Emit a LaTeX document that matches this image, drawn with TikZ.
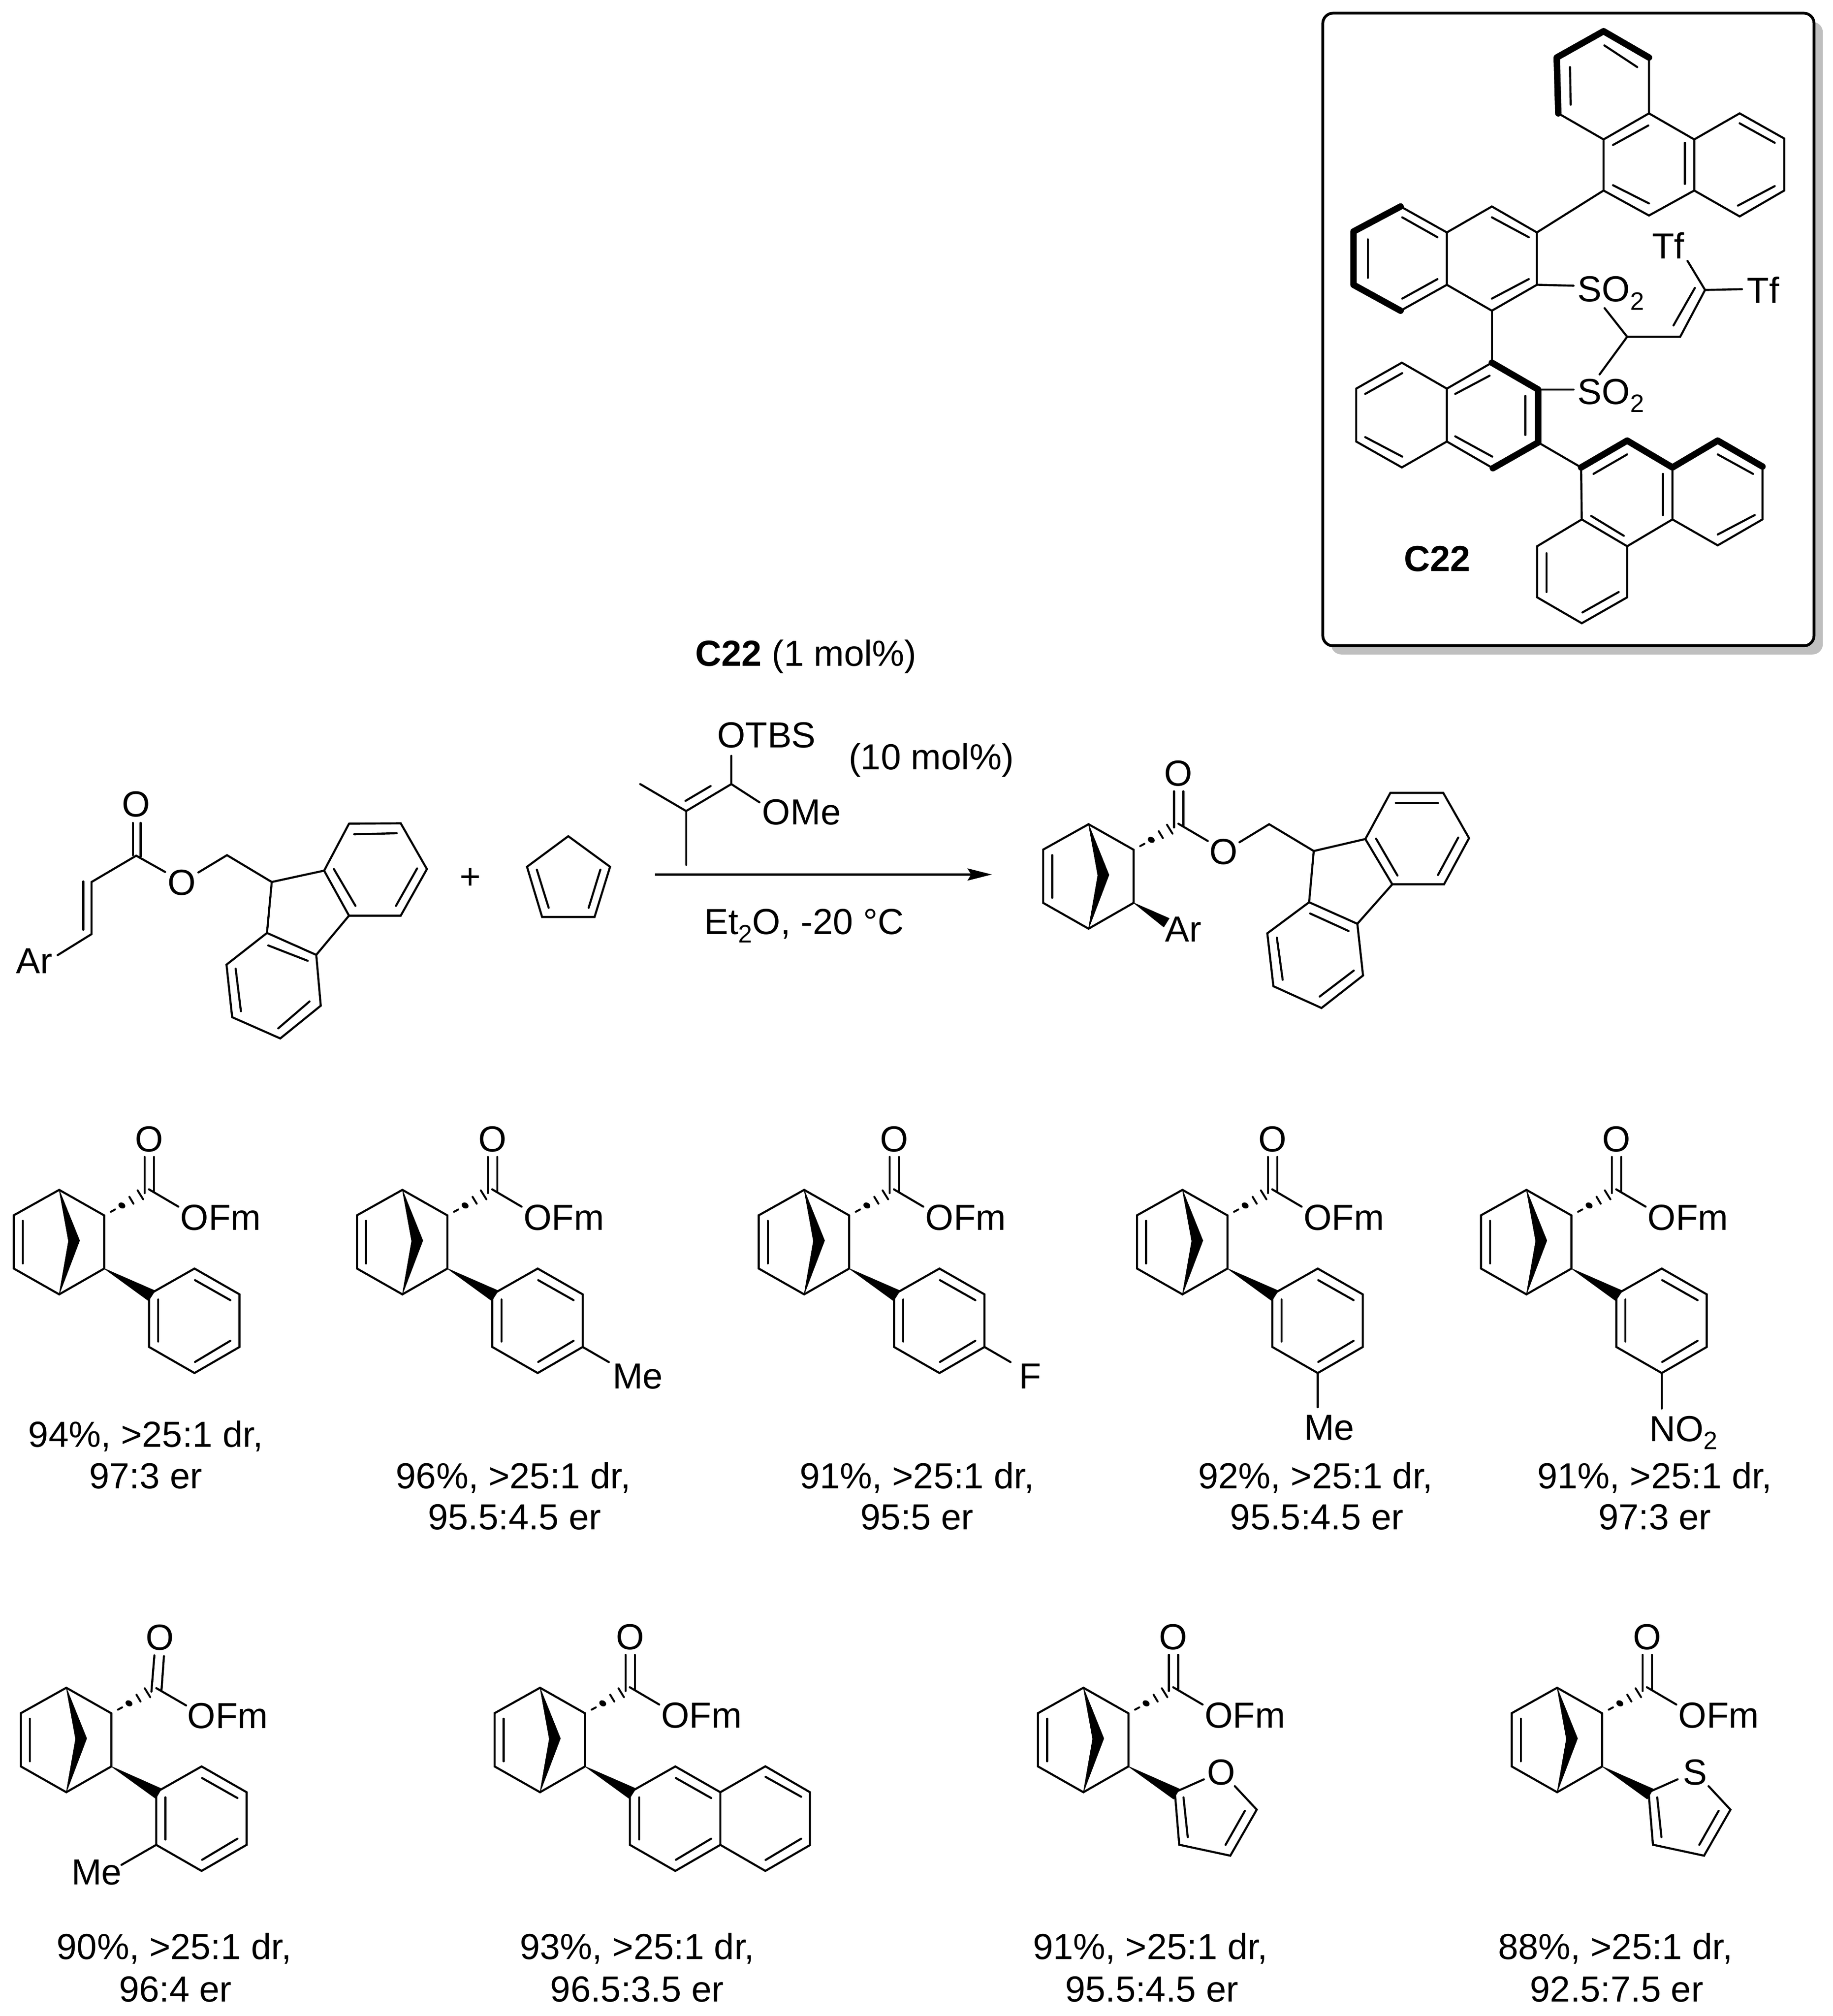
\documentclass[tikz,border=0pt]{standalone}
\usepackage{fontspec}
\setmainfont{Liberation Sans}
\newcommand{\sbs}[1]{\raisebox{-0.22em}{\fontsize{19.5}{19.5}\selectfont #1}}
\tikzset{
  bond/.style={line width=1.6pt,line cap=round,line join=miter,black},
  bold/.style={line width=5pt,line cap=round,line join=round,black},
  hashb/.style={line width=1.5pt,line cap=round,black},
  wedge/.style={fill=black,draw=black,line width=.4pt,line join=round},
  lab/.style={inner sep=0pt,outer sep=0pt,font=\fontsize{28.1}{32}\selectfont},
  lw/.style={lab,anchor=base west},
  lc/.style={lab,anchor=base,align=center},
  lm/.style={lab,anchor=center}
}
% norbornene ring with hashed bond
\newcommand{\nbring}[2]{%
\begin{scope}[shift={(#1,#2)}]
 \draw[bond] (0,0)--(-35.2,19.7)--(-35.2,61)--(0,81)--(34.9,61)--(34.9,19.8)--cycle;
 \draw[bond] (-28.2,24)--(-28.2,57);
 \fill[wedge] (0,0)--(15.8,39.3)--(0,81)--(7.2,39.7)--cycle;
 \draw[hashb] (40,17) -- (43.3,15.2);
 \fill[rotate around={-30:(48.6,12.1)}] (48.6,12.1) ellipse [x radius=2.8pt,y radius=2.2pt];
 \draw[hashb] (54.4,5.4) -- (57.6,10.7);
 \draw[hashb] (60.8,.4) -- (65.1,7.3);
\end{scope}}
% core: ring + vertical C=O
\newcommand{\nbcore}[3]{%
\nbring{#1}{#2}
\begin{scope}[shift={(#1,#2)}]
 \draw[bond] (66.3,-25.5)--(66.3,2.5);
 \draw[bond] (73.5,-25.5)--(73.5,1.5);
 \draw[bond] (69.6,-.4)--(92.4,13);
 \node[lm] (#3co) at (69.7,-39.2) {O};
\end{scope}}
% product core + ester + wedge
\newcommand{\prd}[3]{%
 \nbcore{#1}{#2}{#3}
 \begin{scope}[shift={(#1,#2)}]
  \node[lw] (#3ofm) at (94,31.3) {OFm};
  \fill[wedge] (34.9,61)--(74.3,78.2)--(69.3,86)--cycle;
 \end{scope}}
% benzene ring attached
\newcommand{\phr}[2]{%
 \begin{scope}[shift={(#1,#2)}]
  \draw[bond] (69.7,81)--(104.9,61)--(139.8,81)--(139.8,121.8)--(104.9,142)--(69.7,121.8)--cycle;
  \draw[bond] (76.8,85)--(76.8,117.6);
  \draw[bond] (105.3,70)--(132.7,85.5);
  \draw[bond] (105.3,133.4)--(132.7,117);
 \end{scope}}
% five-membered heteroaryl carbon skeleton
\newcommand{\hetar}[2]{%
 \begin{scope}[shift={(#1,#2)}]
  \fill[wedge] (34.9,61)--(74.5,78.5)--(69.9,86.3)--cycle;
  \draw[bond] (93.4,71)--(70.9,81)--(74.3,121.7)--(113.9,130.2)--(134.4,94.5)--(117.4,76.3);
  \draw[bond] (77.6,85)--(80.9,115.8);
  \draw[bond] (125.2,95.4)--(110.2,121.8);
  \node[lw] at (94,31.3) {OFm};
 \end{scope}}
\begin{document}
\begin{tikzpicture}[x=1pt,y=-1pt]
\useasboundingbox (0,0) rectangle (1421,1563);
\fill[white] (0,0) rectangle (1421,1563);

% ---------- catalyst box
\fill[black!25,rounded corners=8pt] (1032,17) rectangle (1413.3,507.4);
\draw[line width=2.17pt,fill=white,rounded corners=8pt] (1025.6,10.2) rectangle (1406.5,500.7);
% top phenanthrene
\draw[bond] (1278.5,44.6)--(1278.5,87.9)--(1243.3,108.1)--(1208.2,87.9);
\draw[bold] (1278.5,44.6)--(1243.3,24.2)--(1207,44.6)--(1208.2,87.9);
\draw[bond] (1243.9,35.2)--(1269.4,52);
\draw[bond] (1217.3,52)--(1217.8,81.2);
\draw[bond] (1243.3,108.1)--(1243.3,147.7)--(1278.5,167.1)--(1313.6,147.7)--(1313.6,108.1)--(1278.5,87.9);
\draw[bond] (1278,97.3)--(1250.6,112.4);
\draw[bond] (1250.6,143.6)--(1278.5,157.7);
\draw[bond] (1306.3,110.7)--(1306.3,142.6);
\draw[bond] (1313.6,108.1)--(1348.8,87.9)--(1383.4,107.4)--(1383.4,147.7)--(1348.8,167.8)--(1313.6,147.7);
\draw[bond] (1348.8,95.6)--(1376,110.7);
\draw[bond] (1376,144.3)--(1347.5,159.4);
\draw[bond] (1243.3,147.7)--(1191.6,180.2);
% upper naphthalene
\draw[bond] (1191.6,180.2)--(1156.7,160.1)--(1121.8,180.2)--(1121.8,220.8)--(1156.7,240.9)--(1191.6,220.8)--cycle;
\draw[bond] (1185.3,183.9)--(1156.7,168.5);
\draw[bond] (1156.7,231.5)--(1185.3,216.4);
\draw[bond] (1121.8,180.2)--(1085.9,160.1);
\draw[bond] (1121.8,220.8)--(1085.9,240.9);
\draw[bold] (1085.9,160.1)--(1049.4,179.5)--(1049.4,220.8)--(1085.9,240.9);
\draw[bond] (1114.5,183.9)--(1087.2,168.5);
\draw[bond] (1087.2,231.5)--(1114.5,216.4);
\draw[bond] (1060.6,185.6)--(1060.6,215.4);
\draw[bond] (1191.6,220.8)--(1220,221.5);
\draw[bond] (1156.7,240.9)--(1156.7,281.2);
\node[lw] (so2a) at (1223.3,234) {SO\sbs{2}};
\node[lw] (so2b) at (1223.3,313.5) {SO\sbs{2}};
% lower naphthalene
\draw[bold] (1156.7,281.2)--(1192.6,302)--(1192.6,343)--(1157.5,363);
\draw[bond] (1156.7,281.2)--(1121.8,301.3)--(1121.8,342.3)--(1157.5,363);
\draw[bond] (1121.8,301.3)--(1086.9,281.2)--(1051.5,301.3)--(1051.5,342.3)--(1086.9,362.4)--(1121.8,342.3);
\draw[bond] (1154.9,291.3)--(1128.3,305.4);
\draw[bond] (1182.7,307)--(1182.7,337.2);
\draw[bond] (1157,354)--(1128.3,338.3);
\draw[bond] (1087.2,289.3)--(1058.5,305.4);
\draw[bond] (1058.5,338.9)--(1087.2,354);
\draw[bond] (1192.6,302)--(1220,302);
\draw[bond] (1192.6,343)--(1225.9,362.4);
% lower phenanthrene
\draw[bold] (1225.9,362.4)--(1261.6,341.6)--(1296.7,362.4)--(1331.8,341.6)--(1366.5,361.7);
\draw[bond] (1225.9,362.4)--(1226.4,402.7)--(1261.6,423.5)--(1296.7,402.7)--(1296.7,362.4);
\draw[bond] (1366.5,361.7)--(1366.5,402.7)--(1331.8,422.8)--(1296.7,402.7);
\draw[bond] (1261.6,423.5)--(1261.6,463.1)--(1226.4,483.2)--(1191.8,463.1)--(1191.8,423.5)--(1226.4,402.7);
\draw[bond] (1235.5,367.4)--(1261.6,352.3);
\draw[bond] (1289.4,367.4)--(1289.4,399.3);
\draw[bond] (1331.8,352.3)--(1359.2,367.4);
\draw[bond] (1360.5,399.3)--(1331.8,414.4);
\draw[bond] (1233.7,400)--(1259,415.4);
\draw[bond] (1199.1,428.9)--(1199.1,459);
\draw[bond] (1255,459)--(1226.9,474.8);
% central chain
\draw[bond] (1244.1,238.9)--(1261.6,261.1)--(1240.2,290.3);
\draw[bond] (1261.6,261.1)--(1302.7,261.1)--(1322,224.8);
\draw[bond] (1297.5,252.3)--(1314.1,223.2);
\draw[bond] (1308.4,202.3)--(1322,224.8)--(1350.6,224.2);
\node[lw] (tfa) at (1281,200.7) {Tf};
\node[lw] (tfb) at (1354.5,234.9) {Tf};
\node[lw,font=\fontsize{28.1}{32}\selectfont\bfseries] (c22) at (1088.5,443) {C22};

% ---------- reactant
\node[lm] (ro) at (105.6,623.6) {O};
\draw[bond] (103,638)--(103,663);
\draw[bond] (109,638)--(109,664);
\draw[bond] (128,676)--(105.6,663.4)--(71,683.8)--(71,724.2)--(44.7,740.5);
\draw[bond] (64.5,683.4)--(64.5,720.8);
\node[lw] (rar) at (12.5,754.7) {Ar};
\node[lm] (roe) at (141,684.4) {O};
\draw[bond] (153.8,676.4)--(176,663)--(210.7,683.8)--(251.3,675)--(270.6,638.6)--(310.7,638.3)--(331,673.8)--(310.7,709.9)--(270.6,709.9)--(251.3,675);
\draw[bond] (270.6,709.9)--(245.2,740.3)--(207,723.3)--(210.7,683.8);
\draw[bond] (207,723.3)--(175.6,747.9)--(180,788.6)--(217.3,805.1)--(248.7,779.7)--(245.2,740.3);
\draw[bond] (274.6,646.8)--(307.6,646);
\draw[bond] (323.4,673.3)--(307,702.3);
\draw[bond] (258.9,673.8)--(275.6,702.3);
\draw[bond] (208,733)--(238.6,744.9);
\draw[bond] (182.7,751)--(186.8,784);
\draw[bond] (215.7,797.3)--(240,776.4);
\node[lm] (plus) at (364.5,681) {+};
% cyclopentadiene
\draw[bond] (440.6,648.3)--(473,672)--(461,710.9)--(420.3,710.9)--(408.6,672)--cycle;
\draw[bond] (416.2,674.2)--(425.4,703.8);
\draw[bond] (465.5,674.2)--(456.4,703.8);

% ---------- reaction conditions
\coordinate (arrS) at (508,678);
\coordinate (arrE) at (769,678);
\draw[bond,line cap=butt] (arrS)--(758,678);
\fill (arrE)--(750,673.2)--(753,678)--(750,682.8)--cycle;
\node[lw] (cat) at (539,516.5) {\textbf{C22} (1 mol\%)};
\node[lw] (otbs) at (556,579.5) {OTBS};
\node[lw] (tenp) at (658,596.5) {(10 mol\%)};
\node[lw] (ome) at (591,639.5) {OMe};
\node[lw] (etoh) at (546,724.5) {Et\sbs{2}O, -20 °C};
\draw[bond] (567,586)--(567,607.9)--(532,628.8)--(496.4,607.9);
\draw[bond] (551,609.4)--(531.5,620.9);
\draw[bond] (532,628.8)--(532,670.5);
\draw[bond] (567,607.9)--(588.8,622);

% ---------- main product
\nbcore{844}{639}{mp}
\fill[wedge] (879,700)--(906.5,712)--(902.3,718.7)--cycle;
\node[lw] (mpar) at (903.5,730) {Ar};
\node[lm] (mpo) at (948.8,660.5) {O};
\draw[bond] (961,653)--(984,639)--(1018.6,659.8)--(1058.6,650.5)--(1078,614.7)--(1119,614.7)--(1139,649.8)--(1119.6,685.6)--(1079.5,685.6)--(1058.6,650.5);
\draw[bond] (1079.5,685.6)--(1052.4,716.2)--(1015,699.5)--(1018.6,659.8);
\draw[bond] (1015,699.5)--(982.6,723.6)--(987.3,764.6)--(1024.6,781.5)--(1056.8,756.3)--(1052.4,716.2);
\draw[bond] (1082.2,622.6)--(1114.9,622.6);
\draw[bond] (1130.6,649.4)--(1114.9,678.4);
\draw[bond] (1066.9,650.2)--(1083.5,678.8);
\draw[bond] (1015.8,708.2)--(1045.6,721.8);
\draw[bond] (990,727)--(994.5,759.6);
\draw[bond] (1023.2,772.6)--(1049.6,752.5);

% ---------- row 1
\prd{45.9}{922.5}{pa}\phr{45.9}{922.5}
\prd{312}{922.5}{pb}\phr{312}{922.5}
\draw[bond] (451.8,1044.3)--(472,1056);
\node[lw] (pbme) at (475,1076.5) {Me};
\prd{623.5}{922.5}{pc}\phr{623.5}{922.5}
\draw[bond] (763.3,1044.3)--(783.5,1056);
\node[lw] (pcf) at (790,1076.5) {F};
\prd{916.8}{922.5}{pd}\phr{916.8}{922.5}
\draw[bond] (1021.7,1064.5)--(1021.7,1091);
\node[lw] (pdme) at (1011,1116.5) {Me};
\prd{1183.5}{922.5}{pe}\phr{1183.5}{922.5}
\draw[bond] (1288.4,1064.5)--(1288.4,1092);
\node[lw] (pen) at (1278.7,1117.5) {NO\sbs{2}};

\node[lc] (t1a) at (113,1122) {94\%, >25:1 dr,};
\node[lc] (t1b) at (113,1154) {97:3 er};
\node[lc] (t2a) at (398,1154) {96\%, >25:1 dr,};
\node[lc] (t2b) at (399,1186) {95.5:4.5 er};
\node[lc] (t3a) at (711,1154) {91\%, >25:1 dr,};
\node[lc] (t3b) at (711,1186) {95:5 er};
\node[lc] (t4a) at (1020,1154) {92\%, >25:1 dr,};
\node[lc] (t4b) at (1021,1186) {95.5:4.5 er};
\node[lc] (t5a) at (1283,1154) {91\%, >25:1 dr,};
\node[lc] (t5b) at (1283,1186) {97:3 er};

% ---------- row 2
% o-tolyl, with its slightly tilted carbonyl
\nbring{51.4}{1308.5}
\phr{51.4}{1308.5}
\fill[wedge] (86.3,1369.5)--(125.2,1386.8)--(120.8,1394.4)--cycle;
\draw[bond] (119.7,1283.4)--(117.4,1311.5);
\draw[bond] (127.1,1284)--(125.2,1310.4);
\draw[bond] (121.2,1308.8)--(144.3,1322.2);
\node[lm] (pfco) at (124.1,1269.5) {O};
\node[lw] (pfofm) at (145.4,1340) {OFm};
\draw[bond] (121.1,1430.3)--(94.2,1445.8);
\node[lw] (pfme) at (55.4,1461) {Me};
% naphthyl
\prd{418.7}{1308.5}{pg}\phr{418.7}{1308.5}
\draw[bond] (558.5,1389.5)--(593.4,1369.4)--(628,1389.5)--(628,1430.5)--(593.4,1450.5)--(558.5,1430.3);
\draw[bond] (593.6,1377.6)--(621.2,1393);
\draw[bond] (593.6,1442)--(621.2,1425.5);
% furan
\nbcore{840}{1308.5}{ph}
\hetar{840}{1308.5}
\node[lm] (pho) at (947,1374.1) {O};
% thiophene
\nbcore{1207.3}{1308.5}{pi}
\hetar{1207.3}{1308.5}
\node[lm] (pis) at (1314.1,1374.2) {S};

\node[lc] (t6a) at (135,1519) {90\%, >25:1 dr,};
\node[lc] (t6b) at (136,1552) {96:4 er};
\node[lc] (t7a) at (494,1519) {93\%, >25:1 dr,};
\node[lc] (t7b) at (494,1552) {96.5:3.5 er};
\node[lc] (t8a) at (892,1519) {91\%, >25:1 dr,};
\node[lc] (t8b) at (893,1552) {95.5:4.5 er};
\node[lc] (t9a) at (1252.5,1519) {88\%, >25:1 dr,};
\node[lc] (t9b) at (1253.5,1552) {92.5:7.5 er};
\end{tikzpicture}
\end{document}
